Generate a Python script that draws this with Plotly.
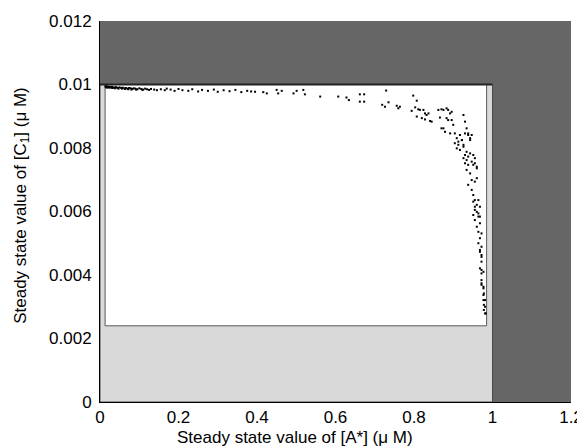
import plotly.graph_objects as go

# steady state samples
a_star = [
    0.014, 0.016, 0.018, 0.02, 0.022, 0.025, 0.028, 0.03, 0.033, 0.036, 0.04, 0.043,
    0.046, 0.05, 0.054, 0.058, 0.062, 0.066, 0.07, 0.074, 0.078, 0.082, 0.086, 0.09,
    0.095, 0.1, 0.105, 0.11, 0.115, 0.12, 0.125, 0.13, 0.138, 0.145,
    0.015, 0.019, 0.024, 0.031, 0.038, 0.047, 0.056, 0.064, 0.072, 0.08, 0.092, 0.108,
    0.155, 0.165, 0.17, 0.18, 0.19, 0.2, 0.21, 0.225, 0.235, 0.25, 0.26, 0.275, 0.29,
    0.3, 0.315, 0.33, 0.345, 0.36, 0.375, 0.385,
    0.395, 0.416, 0.425, 0.45, 0.454, 0.463, 0.493, 0.501, 0.518, 0.522, 0.561, 0.607,
    0.628, 0.634, 0.662, 0.673, 0.662, 0.673, 0.729, 0.719, 0.726, 0.735, 0.756, 0.764,
    0.76, 0.798, 0.807, 0.803, 0.811, 0.794, 0.824, 0.828, 0.807, 0.832, 0.82, 0.828,
    0.841, 0.862, 0.875, 0.883, 0.866, 0.883, 0.875, 0.879,
    0.815, 0.837, 0.845, 0.87, 0.887, 0.896, 0.887, 0.896, 0.87, 0.892, 0.904, 0.909,
    0.917, 0.922, 0.926, 0.93, 0.934, 0.938, 0.943, 0.947, 0.904, 0.913, 0.917, 0.909,
    0.926, 0.934, 0.93, 0.938, 0.943, 0.951, 0.955, 0.947, 0.951, 0.96, 0.934, 0.938,
    0.892, 0.9, 0.913, 0.922, 0.93, 0.938, 0.943, 0.926, 0.926, 0.93, 0.955, 0.96,
    0.934, 0.943, 0.947, 0.955, 0.96, 0.938, 0.947, 0.951, 0.955, 0.964, 0.96, 0.968,
    0.955, 0.964, 0.968,
    0.951, 0.955, 0.96, 0.951, 0.964, 0.955, 0.968, 0.96, 0.964, 0.972, 0.968, 0.964,
    0.972, 0.968, 0.972, 0.972, 0.972, 0.977, 0.972, 0.972, 0.977, 0.977, 0.977, 0.978,
    0.978, 0.981, 0.968, 0.972, 0.968, 0.972, 0.972, 0.977, 0.978, 0.981, 0.981, 0.983,
]
c1 = [
    0.00994, 0.00993, 0.00994, 0.00992, 0.00993, 0.00992, 0.00991, 0.00993, 0.00991,
    0.0099, 0.00992, 0.0099, 0.00989, 0.00991, 0.00989, 0.0099, 0.00988, 0.00989,
    0.00987, 0.00989, 0.00988, 0.00986, 0.00988, 0.00987, 0.00985, 0.00988, 0.00986,
    0.00984, 0.00987, 0.00985, 0.00983, 0.00986, 0.00984, 0.00982,
    0.00991, 0.0099, 0.0099, 0.00989, 0.00988, 0.00987, 0.00987, 0.00986, 0.00985,
    0.00984, 0.00984, 0.00983,
    0.00985, 0.00982, 0.00987, 0.00984, 0.0098, 0.00986, 0.00982, 0.0098, 0.00985,
    0.00978, 0.00983, 0.0098, 0.00984, 0.00977, 0.00982, 0.00979, 0.00983, 0.00976,
    0.0098, 0.00978,
    0.00977, 0.00976, 0.00972, 0.00983, 0.00972, 0.0098, 0.00972, 0.0098, 0.00983,
    0.00969, 0.00962, 0.00962, 0.00959, 0.00951, 0.00969, 0.00969, 0.00946, 0.00946,
    0.00981, 0.00936, 0.0093, 0.00944, 0.00933, 0.0093, 0.00925, 0.00965, 0.00949,
    0.00928, 0.00922, 0.00917, 0.0092, 0.00909, 0.00899, 0.00904, 0.00894, 0.0089,
    0.00885, 0.0092, 0.0092, 0.00925, 0.00896, 0.00894, 0.00862, 0.00851,
    0.0092, 0.00909, 0.00883, 0.00922, 0.0092, 0.00914, 0.00888, 0.00888, 0.00862,
    0.00846, 0.00846, 0.00831, 0.00841, 0.00825, 0.00904, 0.00883, 0.00862, 0.00846,
    0.00831, 0.00841, 0.00815, 0.0081, 0.00794, 0.00799, 0.00804, 0.00788, 0.00778,
    0.00773, 0.00783, 0.00778, 0.00768, 0.00757, 0.00747, 0.00741, 0.00762, 0.00747,
    0.00909, 0.00873, 0.0082, 0.00825, 0.00846, 0.00841, 0.00825, 0.0081, 0.00768,
    0.00752, 0.00752, 0.00736, 0.00731, 0.0072, 0.00699, 0.00694, 0.00705, 0.00684,
    0.00668, 0.00652, 0.00636, 0.00636, 0.00621, 0.00615, 0.00605, 0.00594, 0.00584,
    0.00631, 0.00615, 0.00599, 0.00589, 0.00584, 0.00573, 0.00563, 0.00552, 0.00536,
    0.00531, 0.00516, 0.005, 0.00489, 0.00473, 0.00463, 0.00442, 0.00416, 0.0041,
    0.00384, 0.00369, 0.00358, 0.00337, 0.00321, 0.00306, 0.0029, 0.00279,
    0.00479, 0.00457, 0.00421, 0.00405, 0.00374, 0.00363, 0.00342, 0.00321, 0.003,
    0.00279,
]

x_ticks = [0, 0.2, 0.4, 0.6, 0.8, 1, 1.2]
x_labels = ["0", "0.2", "0.4", "0.6", "0.8", "1", "1.2"]
y_ticks = [0, 0.002, 0.004, 0.006, 0.008, 0.01, 0.012]
y_labels = ["0", "0.002", "0.004", "0.006", "0.008", "0.01", "0.012"]

# feasible region boxes
outer_box = [0, 0, 1, 0.01]
inner_box = [0.013, 0.0024, 0.985, 0.01]

fig = go.Figure()

fig.add_shape(type="rect", xref="x", yref="y", layer="below",
              x0=outer_box[0], y0=outer_box[1], x1=outer_box[2], y1=outer_box[3],
              fillcolor="#d9d9d9", line=dict(color="#4a4a4a", width=1))
fig.add_shape(type="rect", xref="x", yref="y", layer="below",
              x0=inner_box[0], y0=inner_box[1], x1=inner_box[2], y1=inner_box[3],
              fillcolor="white", line=dict(color="#5a5a5a", width=1))
fig.add_shape(type="line", xref="x", yref="y", layer="below",
              x0=outer_box[0], y0=outer_box[3], x1=outer_box[2], y1=outer_box[3],
              line=dict(color="#222222", width=2))

fig.add_trace(go.Scatter(x=a_star, y=c1, mode="markers",
                         marker=dict(color="black", size=2, symbol="square"),
                         hoverinfo="x+y", showlegend=False))

font = "Liberation Sans, Arial, sans-serif"
fig.update_xaxes(range=[0, 1.2], tickvals=x_ticks, ticktext=x_labels, automargin=False,
                 showgrid=False, zeroline=False, showline=True, linecolor="black",
                 linewidth=1, ticks="", tickfont=dict(size=17, color="black"))
fig.update_yaxes(range=[0, 0.012], tickvals=y_ticks, ticktext=y_labels, automargin=False,
                 showgrid=False, zeroline=False, showline=True, linecolor="black",
                 linewidth=1, ticks="", ticklabelstandoff=4,
                 tickfont=dict(size=17, color="black"))

fig.add_annotation(text="Steady state value of [A*] (μ M)", xref="paper", yref="paper",
                   x=0.414, y=-0.092, showarrow=False, xanchor="center", yanchor="middle",
                   font=dict(size=17, color="black"))
fig.add_annotation(text="Steady state value of [C<sub>1</sub>] (μ M)", xref="paper",
                   yref="paper", x=-0.166, y=0.517, textangle=-90, showarrow=False,
                   xanchor="center", yanchor="middle", font=dict(size=17, color="black"))

# the page adds an 8px body margin, so the figure is sized to fit inside the window
fig.update_layout(width=577, height=439, margin=dict(l=92, r=14, t=13, b=45),
                  plot_bgcolor="#666666", paper_bgcolor="white",
                  font=dict(family=font, color="black"))

fig.write_html("out.html")
